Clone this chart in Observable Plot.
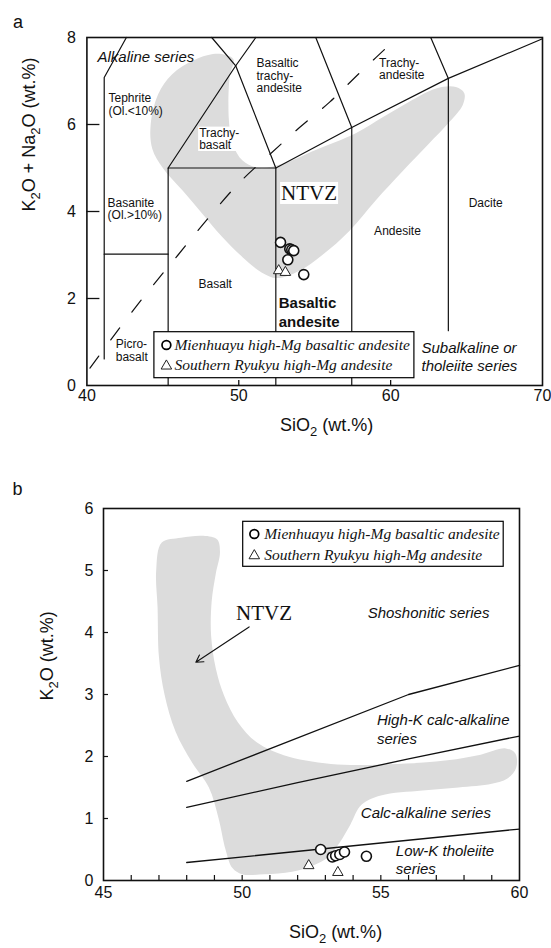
<!DOCTYPE html>
<html><head><meta charset="utf-8">
<script src="https://cdn.jsdelivr.net/npm/d3@7"></script>
<script src="https://cdn.jsdelivr.net/npm/@observablehq/plot@0.6"></script>
<style>
body{margin:0;background:#fff;}
#chart svg{display:block;}
</style></head><body><div id="chart"></div>
<script>
// ================= Panel a : TAS diagram =================
const aTickLabelsX = [40, 50, 60, 70];
const aTickLabelsY = [0, 2, 4, 6, 8];
const aTickMarksX = [50, 60];
const aTickMarksY = [2, 4, 6];
const seriesNames = ["Mienhuayu high-Mg basaltic andesite", "Southern Ryukyu high-Mg andesite"];
const aMienSiO2 = [52.75, 53.36, 53.49, 53.62, 53.23, 54.28];
const aMienAlk  = [3.29, 3.14, 3.12, 3.10, 2.89, 2.55];
const aRyuSiO2  = [52.63, 53.07];
const aRyuAlk   = [2.64, 2.60];
// field boundaries (SiO2, Na2O+K2O)
const aBoundaries = [
  [[41.14, 0.61], [41.14, 7.08], [42.6, 8]],
  [[41.14, 3.02], [45.35, 3.02]],
  [[45.35, 0], [45.35, 5], [52.44, 5]],
  [[45.35, 5], [49.8, 7.35], [48.22, 8]],
  [[49.8, 7.35], [51.12, 8]],
  [[49.8, 7.35], [52.44, 5]],
  [[52.44, 0], [52.44, 5], [57.44, 5.93], [63.8, 7.06], [70, 7.97]],
  [[57.44, 0], [57.44, 5.93], [55.07, 8]],
  [[63.8, 1.26], [63.8, 7.06], [62.64, 8]]
];
// alkaline / subalkaline divide (dashed)
const aAlkDivide = [[40.2,0.4],[42,1.25],[44,2.15],[46,3.0],[48,3.85],[50,4.65],[52,5.3],[54,5.93],[56,6.52],[58,7.2],[60.45,8.0]];
// NTVZ field outline
const aNtvzField = [[47.0,7.47],[48.3,7.62],[49.15,7.6],[49.65,7.5],[49.4,7.1],[49.35,6.1],[49.6,5.55],[50.25,5.17],[51.35,5.0],[52.9,5.1],[55.1,5.42],[57.7,5.8],[59.5,6.17],[61.2,6.52],[63.0,6.83],[64.3,6.86],[64.85,6.72],[64.75,6.45],[63.85,6.05],[62.5,5.55],[60.8,4.93],[59.0,4.25],[57.3,3.56],[55.5,3.0],[54.0,2.64],[52.5,2.47],[51.5,2.6],[50.25,2.95],[48.9,3.42],[47.6,3.95],[46.3,4.48],[45.0,5.0],[44.3,5.45],[44.2,6.0],[44.7,6.7],[45.6,7.15]];
const aFieldLabels = [
  {text: "Tephrite\n(Ol.<10%)", x: 41.42, y: 6.46},
  {text: "Trachy-\nbasalt", x: 47.39, y: 5.67},
  {text: "Basaltic\ntrachy-\nandesite", x: 51.17, y: 7.12},
  {text: "Trachy-\nandesite", x: 59.24, y: 7.28},
  {text: "Basanite\n(Ol.>10%)", x: 41.36, y: 4.06},
  {text: "Picro-\nbasalt", x: 41.9, y: 0.80}
];
const aFieldLabelsMid = [
  {text: "Dacite", x: 66.26, y: 4.19},
  {text: "Andesite", x: 60.45, y: 3.54},
  {text: "Basalt", x: 48.45, y: 2.33}
];
const aBoldLabel = [{text: "Basaltic\nandesite", x: 52.63, y: 1.70}];
const aSeriesLabels = [
  {text: "Alkaline series", x: 40.70, y: 7.56},
  {text: "Subalkaline or\ntholeiite series", x: 62.03, y: 0.67}
];
const aNtvzLabel = [{text: "NTVZ", x: 54.63, y: 4.42}];

// ================= Panel b : K2O vs SiO2 =================
const bTickLabelsX = [45, 50, 55, 60];
const bTickLabelsY = [0, 1, 2, 3, 4, 5, 6];
const bTickMarksX = [46, 47, 48, 49, 50, 51, 52, 53, 54, 55, 56, 57, 58, 59];
const bTickMarksY = [1, 2, 3, 4, 5];
const bMienSiO2 = [52.83, 53.25, 53.37, 53.52, 53.69, 54.48];
const bMienK2O  = [0.50, 0.38, 0.40, 0.42, 0.46, 0.39];
const bRyuSiO2  = [52.40, 53.45];
const bRyuK2O   = [0.24, 0.13];
const bLowKLine  = [[48, 0.29], [60, 0.83]];
const bCalcLine  = [[48, 1.18], [52, 1.58], [56, 1.96], [60, 2.33]];
const bHighKLine = [[48, 1.6], [56, 3.0], [60, 3.47]];
const bNtvzField = [[47.1,5.45],[47.8,5.53],[48.6,5.56],[49.1,5.5],[49.2,5.3],[49.05,4.95],[48.9,4.5],[48.88,3.95],[49.05,3.42],[49.35,2.98],[49.85,2.55],[50.55,2.22],[51.5,2.02],[53.2,1.88],[55.6,1.88],[57.4,1.94],[58.6,2.03],[59.5,2.13],[59.85,2.05],[59.88,1.82],[59.55,1.64],[59.0,1.56],[57.8,1.5],[56.5,1.45],[55.0,1.37],[54.3,1.22],[53.9,0.9],[53.5,0.6],[53.1,0.38],[52.6,0.25],[51.8,0.14],[50.8,0.1],[50.0,0.1],[49.65,0.2],[49.4,0.5],[49.15,1.0],[48.8,1.5],[48.2,1.9],[47.6,2.4],[47.2,3.0],[47.0,3.6],[46.95,4.4],[46.9,5.0]];
const bSeriesLabels = [
  {text: "High-K calc-alkaline\nseries", x: 54.86, y: 2.45},
  {text: "Calc-alkaline series", x: 54.28, y: 1.10},
  {text: "Low-K tholeiite\nseries", x: 55.54, y: 0.34}
];
const bShoLabel = [{text: "Shoshonitic series", x: 56.72, y: 4.31}];
const bNtvzLabel = [{text: "NTVZ", x: 50.79, y: 4.31}];
const bArrow = [{x1: 50.25, y1: 4.09, x2: 48.33, y2: 3.52}];

// ================= helpers =================
const SANS = "Liberation Sans, Arial, sans-serif";
const SERIF = "Liberation Serif, Times New Roman, serif";
const pts = (xs, ys) => xs.map((x, i) => ({x, y: ys[i]}));
const segs = (list) => list.flatMap((s, i) => s.map(p => ({seg: i, x: p[0], y: p[1]})));

function legendMark(L) {
  return (index, scales, values, dims) => {
    const g = d3.create("svg:g");
    const x0 = dims.marginLeft + L.dx, y0 = dims.marginTop + L.dy;
    g.append("rect").attr("x", x0).attr("y", y0).attr("width", L.w).attr("height", L.h)
      .attr("fill", "white").attr("stroke", "black").attr("stroke-width", 1.2);
    seriesNames.forEach((name, i) => {
      const cx = x0 + L.symX, cy = y0 + L.rows[i];
      if (i === 0) {
        g.append("circle").attr("cx", cx).attr("cy", cy).attr("r", 4.4)
          .attr("fill", "white").attr("stroke", "black").attr("stroke-width", 1.7);
      } else {
        g.append("path").attr("d", d3.symbol(d3.symbolTriangle, 48)())
          .attr("transform", `translate(${cx},${cy + 1})`)
          .attr("fill", "white").attr("stroke", "#222").attr("stroke-width", 1);
      }
      g.append("text").attr("x", x0 + L.textX).attr("y", cy).attr("dy", "0.35em")
        .attr("text-anchor", "start")
        .attr("font-family", SERIF).attr("font-style", "italic").attr("font-size", 15.5)
        .attr("fill", "#111").text(name);
    });
    return g.node();
  };
}

function subscripts(svg) {
  svg.querySelectorAll("text").forEach(t => {
    const s = t.textContent;
    if (t.children.length || !/[A-Za-z]2/.test(s)) return;
    t.textContent = "";
    const parts = s.split("2");
    parts.forEach((p, i) => {
      if (i > 0) {
        const sub = document.createElementNS("http://www.w3.org/2000/svg", "tspan");
        sub.setAttribute("dy", "5"); sub.setAttribute("font-size", "13");
        sub.textContent = "2"; t.appendChild(sub);
      }
      const ts = document.createElementNS("http://www.w3.org/2000/svg", "tspan");
      if (i > 0) ts.setAttribute("dy", "-5");
      ts.textContent = p; t.appendChild(ts);
    });
  });
}

function boxBehind(svg, strings) {
  svg.querySelectorAll("text").forEach(t => {
    if (!strings.includes(t.textContent)) return;
    const b = t.getBBox();
    const r = document.createElementNS("http://www.w3.org/2000/svg", "rect");
    r.setAttribute("x", b.x - 1); r.setAttribute("y", b.y + 1);
    r.setAttribute("width", b.width + 2); r.setAttribute("height", b.height - 2);
    r.setAttribute("fill", "white");
    if (t.getAttribute("transform")) r.setAttribute("transform", t.getAttribute("transform"));
    t.parentNode.insertBefore(r, t);
  });
}

// ================= Panel a plot =================
const A = {width: 551, height: 450, mt: 37, mb: 65, ml: 86.4, mr: 9};
const aInnerW = A.width - A.ml - A.mr, aInnerH = A.height - A.mt - A.mb;
const plotA = Plot.plot({
  width: A.width, height: A.height,
  marginTop: A.mt, marginBottom: A.mb, marginLeft: A.ml, marginRight: A.mr,
  style: {fontFamily: SANS, background: "white", overflow: "visible", color: "#111"},
  x: {domain: [40, 70], axis: null},
  y: {domain: [0, 8], axis: null},
  marks: [
    Plot.line(aNtvzField, {x: d => d[0], y: d => d[1], curve: "catmull-rom-closed", fill: "#dcdcdc", stroke: "none"}),
    Plot.line(segs(aBoundaries), {x: "x", y: "y", z: "seg", stroke: "#111", strokeWidth: 1.2}),
    Plot.line(aAlkDivide, {x: d => d[0], y: d => d[1], curve: "catmull-rom", stroke: "#111", strokeWidth: 1.2, strokeDasharray: "15,20"}),
    Plot.frame({stroke: "#111", strokeWidth: 1.6}),
    Plot.ruleX(aTickMarksX, {x: d => d, insetTop: aInnerH - 5, stroke: "#111", strokeWidth: 1.3}),
    Plot.ruleY(aTickMarksY, {y: d => d, insetRight: aInnerW - 13, stroke: "#111", strokeWidth: 1.3}),
    Plot.text(aTickLabelsX, {x: d => d, text: d => String(d), frameAnchor: "bottom", dy: 15, fontSize: 16}),
    Plot.text(aTickLabelsY, {y: d => d, text: d => String(d), frameAnchor: "left", dx: -11, textAnchor: "end", fontSize: 16}),
    Plot.text(["SiO2 (wt.%)"], {text: d => d, frameAnchor: "bottom", dx: 12, dy: 45, fontSize: 18}),
    Plot.text(["K2O + Na2O (wt.%)"], {text: d => d, frameAnchor: "left", dx: -58, rotate: -90, fontSize: 18}),
    Plot.text(["a"], {text: d => d, frameAnchor: "top-left", dx: -74, dy: -22, fontSize: 18}),
    Plot.text(aFieldLabels, {x: "x", y: "y", text: "text", textAnchor: "start", fontSize: 12, lineHeight: 1.03}),
    Plot.text(aFieldLabelsMid, {x: "x", y: "y", text: "text", fontSize: 12}),
    Plot.text(aBoldLabel, {x: "x", y: "y", text: "text", textAnchor: "start", fontSize: 15, fontWeight: "bold", lineHeight: 1.27}),
    Plot.text(aSeriesLabels, {x: "x", y: "y", text: "text", textAnchor: "start", fontSize: 15, fontStyle: "italic", lineHeight: 1.22}),
    Plot.text(aNtvzLabel, {x: "x", y: "y", text: "text", fontSize: 21, fontFamily: SERIF}),
    Plot.dot(pts(aRyuSiO2, aRyuAlk), {x: "x", y: "y", symbol: "triangle", r: 3.9, fill: "white", stroke: "#222", strokeWidth: 1}),
    Plot.dot(pts(aMienSiO2, aMienAlk), {x: "x", y: "y", r: 5, fill: "white", stroke: "#111", strokeWidth: 1.6}),
    legendMark({dx: 67.5, dy: 294.7, w: 260, h: 46, symX: 12.5, textX: 20.5, rows: [13.3, 33.3]})
  ]
});

// ================= Panel b plot =================
const B = {width: 551, height: 498, mt: 58, mb: 68, ml: 103, mr: 32};
const bInnerW = B.width - B.ml - B.mr, bInnerH = B.height - B.mt - B.mb;
const plotB = Plot.plot({
  width: B.width, height: B.height,
  marginTop: B.mt, marginBottom: B.mb, marginLeft: B.ml, marginRight: B.mr,
  style: {fontFamily: SANS, background: "white", overflow: "visible", color: "#111"},
  x: {domain: [45, 60], axis: null},
  y: {domain: [0, 6], axis: null},
  marks: [
    Plot.line(bNtvzField, {x: d => d[0], y: d => d[1], curve: "catmull-rom-closed", fill: "#dcdcdc", stroke: "none"}),
    Plot.line(segs([bLowKLine, bCalcLine, bHighKLine]), {x: "x", y: "y", z: "seg", stroke: "#111", strokeWidth: 1.3}),
    Plot.frame({stroke: "#111", strokeWidth: 1.6}),
    Plot.ruleX(bTickMarksX, {x: d => d, insetTop: bInnerH - 5, stroke: "#111", strokeWidth: 1.2}),
    Plot.ruleY(bTickMarksY, {y: d => d, insetRight: bInnerW - 5, stroke: "#111", strokeWidth: 1.2}),
    Plot.text(bTickLabelsX, {x: d => d, text: d => String(d), frameAnchor: "bottom", dy: 17, fontSize: 16}),
    Plot.text(bTickLabelsY, {y: d => d, text: d => String(d), frameAnchor: "left", dx: -10, textAnchor: "end", fontSize: 16}),
    Plot.text(["SiO2 (wt.%)"], {text: d => d, frameAnchor: "bottom", dx: 24, dy: 57, fontSize: 18}),
    Plot.text(["K2O (wt.%)"], {text: d => d, frameAnchor: "left", dx: -56, dy: 6, rotate: -90, fontSize: 18}),
    Plot.text(["b"], {text: d => d, frameAnchor: "top-left", dx: -91, dy: -26, fontSize: 18}),
    Plot.text(bSeriesLabels, {x: "x", y: "y", text: "text", textAnchor: "start", fontSize: 15, fontStyle: "italic", lineHeight: 1.22}),
    Plot.text(bShoLabel, {x: "x", y: "y", text: "text", fontSize: 15, fontStyle: "italic"}),
    Plot.text(bNtvzLabel, {x: "x", y: "y", text: "text", fontSize: 21, fontFamily: SERIF}),
    Plot.arrow(bArrow, {x1: "x1", y1: "y1", x2: "x2", y2: "y2", stroke: "#111", strokeWidth: 1.1, headLength: 11}),
    Plot.dot(pts(bRyuSiO2, bRyuK2O), {x: "x", y: "y", symbol: "triangle", r: 3.9, fill: "white", stroke: "#222", strokeWidth: 1}),
    Plot.dot(pts(bMienSiO2, bMienK2O), {x: "x", y: "y", r: 5, fill: "white", stroke: "#111", strokeWidth: 1.6}),
    legendMark({dx: 139.7, dy: 13.3, w: 260.5, h: 45, symX: 11.6, textX: 21.5, rows: [12.7, 33.4]})
  ]
});

const root = document.getElementById("chart");
root.appendChild(plotA);
root.appendChild(plotB);
boxBehind(plotA, ["NTVZ", "Trachy-basalt"]);
subscripts(plotA);
subscripts(plotB);
</script>
</body></html>
